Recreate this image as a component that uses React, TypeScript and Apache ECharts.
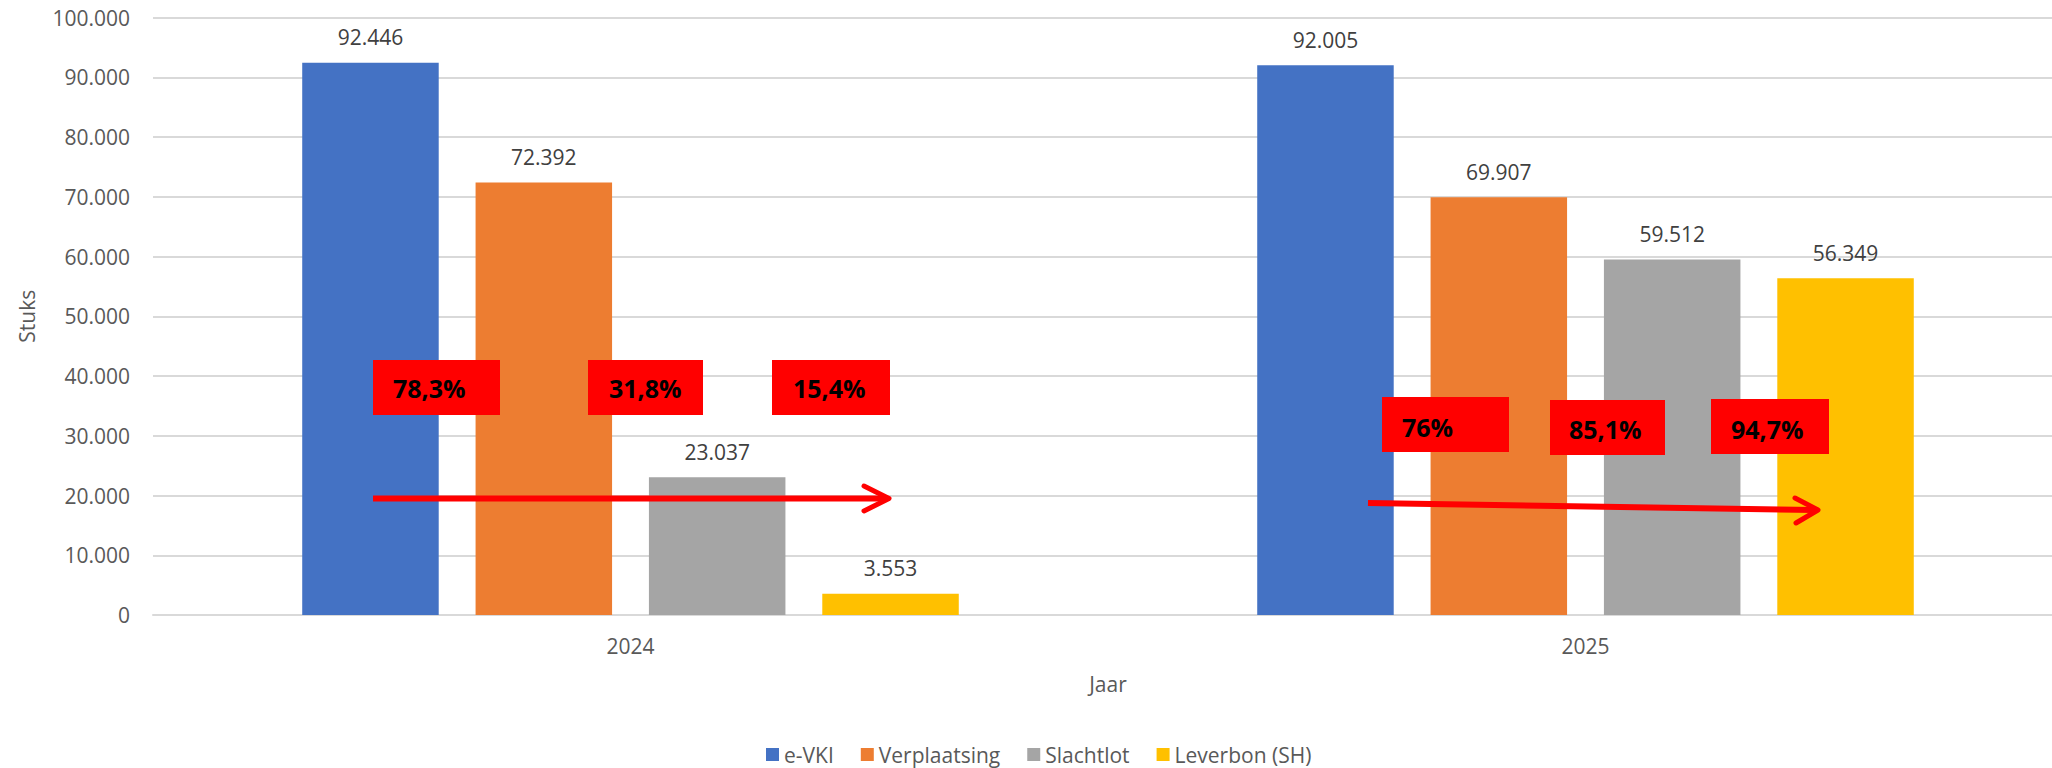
import React, { useEffect, useRef } from "react";
import * as echarts from "echarts";

const categories = ["2024", "2025"];
const seriesNames = ["e-VKI", "Verplaatsing", "Slachtlot", "Leverbon (SH)"];
const eVKI = [92446, 92005];
const verplaatsing = [72392, 69907];
const slachtlot = [23037, 59512];
const leverbon = [3553, 56349];
const colors = ["#4472C4", "#ED7D31", "#A5A5A5", "#FFC000"];
const pct2024 = ["78,3%", "31,8%", "15,4%"];
const pct2025 = ["76%", "85,1%", "94,7%"];

const FONT = "'Open Sans', 'DejaVu Sans', sans-serif";

function fmt(v: number): string {
  return String(v).replace(/\B(?=(\d{3})+(?!\d))/g, ".");
}

function box(x: number, y: number, w: number, h: number, text: string, tx: number, ty: number) {
  return [
    { type: "rect", z: 100, shape: { x, y, width: w, height: h }, style: { fill: "#FF0000" } },
    {
      type: "text",
      z: 101,
      x: tx,
      y: ty,
      style: {
        text,
        fill: "#000000",
        font: `bold 25px ${FONT}`,
        textAlign: "left",
        textVerticalAlign: "middle",
      },
    },
  ];
}

function arrow(x1: number, y1: number, x2: number, y2: number, head: number[][]) {
  return [
    {
      type: "line",
      z: 100,
      shape: { x1, y1, x2, y2 },
      style: { stroke: "#FF0000", lineWidth: 6 },
    },
    {
      type: "polyline",
      z: 100,
      shape: { points: head },
      style: { stroke: "#FF0000", lineWidth: 5, lineCap: "round", lineJoin: "round", fill: null },
    },
  ];
}

export default function App() {
  const ref = useRef<HTMLDivElement>(null);
  useEffect(() => {
    if (!ref.current) return;
    const chart = echarts.init(ref.current, null, { renderer: "svg" });
    const data = [eVKI, verplaatsing, slachtlot, leverbon];
    chart.setOption({
      animation: false,
      backgroundColor: "#ffffff",
      textStyle: { fontFamily: FONT },
      grid: { left: 153, top: 17.5, width: 1910, height: 597.5, containLabel: false },
      legend: {
        data: seriesNames,
        left: 761,
        top: 739,
        padding: 5,
        icon: "rect",
        itemWidth: 13,
        itemHeight: 13,
        itemGap: 27,
        textStyle: { fontSize: 21, lineHeight: 21, color: "#595959", fontFamily: FONT },
      },
      xAxis: {
        type: "category",
        data: categories,
        name: "Jaar",
        nameLocation: "middle",
        nameGap: 58,
        nameTextStyle: { fontSize: 21, color: "#595959", fontFamily: FONT },
        axisTick: { show: false },
        axisLine: { lineStyle: { color: "#d9d9d9", width: 2 } },
        axisLabel: { fontSize: 21, color: "#595959", margin: 20, fontFamily: FONT },
      },
      yAxis: {
        type: "value",
        min: 0,
        max: 100000,
        interval: 10000,
        name: "Stuks",
        nameLocation: "middle",
        nameGap: 116,
        nameRotate: 90,
        nameTextStyle: { fontSize: 21, color: "#595959", fontFamily: FONT },
        axisLine: { show: false },
        axisTick: { show: false },
        splitLine: { lineStyle: { color: "#d9d9d9", width: 2 } },
        axisLabel: {
          fontSize: 21,
          color: "#595959",
          margin: 23,
          fontFamily: FONT,
          formatter: (v: number) => fmt(v),
        },
      },
      series: seriesNames.map((name, i) => ({
        name,
        type: "bar",
        data: data[i],
        barWidth: 136.5,
        barGap: "27%",
        itemStyle: { color: colors[i] },
        label: {
          show: true,
          position: "top",
          distance: 15,
          fontSize: 21,
          lineHeight: 21,
          color: "#404040",
          fontFamily: FONT,
          formatter: (p: any) => fmt(p.value),
        },
      })),
      graphic: [
        ...box(373, 360, 127, 55, pct2024[0], 393, 388),
        ...box(588, 360, 115, 55, pct2024[1], 609, 388),
        ...box(772, 360, 118, 55, pct2024[2], 793, 388),
        ...box(1382, 397, 127, 55, pct2025[0], 1402, 427),
        ...box(1550, 400, 115, 55, pct2025[1], 1569, 429),
        ...box(1711, 399, 118, 55, pct2025[2], 1731, 429),
        ...arrow(373, 498.5, 886, 498.5, [
          [864, 486],
          [889, 498.5],
          [864, 511],
        ]),
        ...arrow(1368, 503, 1815, 510, [
          [1795, 498],
          [1818, 510],
          [1796, 523],
        ]),
      ],
    });
    return () => chart.dispose();
  }, []);
  return (
    <div
      ref={ref}
      style={{ position: "fixed", left: 0, top: 0, width: 2080, height: 768, background: "#fff" }}
    />
  );
}
